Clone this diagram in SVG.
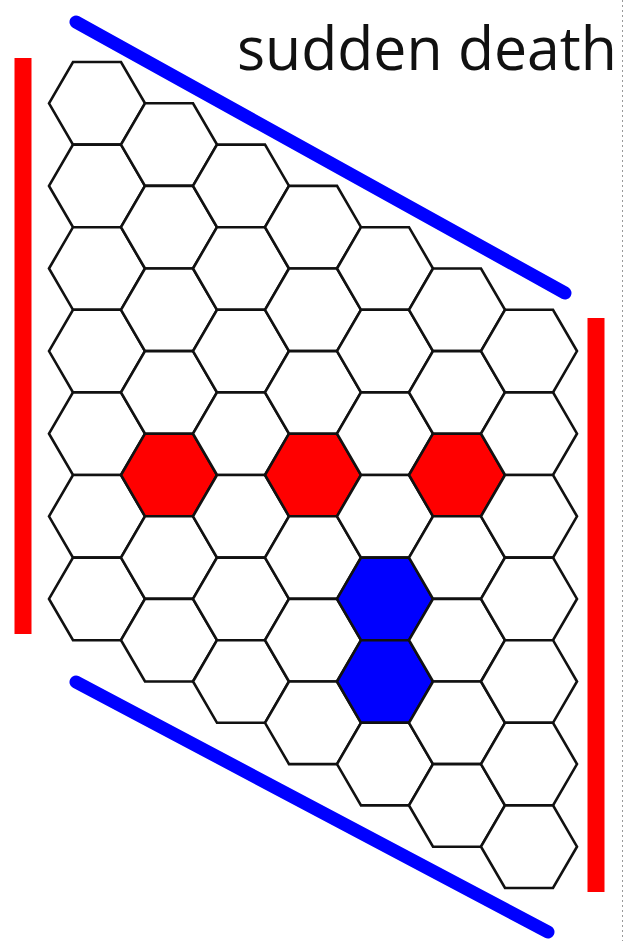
<svg xmlns="http://www.w3.org/2000/svg" xmlns:xlink="http://www.w3.org/1999/xlink" width="625" height="941" viewBox="0 0 625 941">
<style>
.cell{fill:#ffffff;stroke:#111111;stroke-width:2.6;stroke-linejoin:miter}
.red{fill:#ff0000}
.blue{fill:#0000ff}
.bred{stroke:#ff0000;stroke-width:17;stroke-linecap:butt}
.bblue{stroke:#0000ff;stroke-width:13;stroke-linecap:round}
.title{font-family:"Open Sans","Liberation Sans",sans-serif;font-size:60px;fill:#111111}
</style>
<defs>
<polygon id="hex" points="-48,0 -24,-41.3 24,-41.3 48,0 24,41.3 -24,41.3"/>
</defs>
<rect width="625" height="941" fill="#ffffff"/>
<line x1="622.5" y1="0" x2="622.5" y2="941" stroke="#999" stroke-width="1" stroke-dasharray="2,3"/>
<text class="title" x="237" y="70" textLength="380" lengthAdjust="spacingAndGlyphs">sudden death</text>
<g id="borders">
<line class="bred" x1="23" y1="58" x2="23" y2="634"/>
<line class="bred" x1="596" y1="318" x2="596" y2="892"/>
<line class="bblue" x1="76" y1="22" x2="565" y2="293"/>
<line class="bblue" x1="76" y1="682" x2="548" y2="932"/>
</g>
<g id="board">
<g id="c0r0"><use href="#hex" class="cell" transform="translate(97,103.3)"/></g>
<g id="c0r1"><use href="#hex" class="cell" transform="translate(97,185.9)"/></g>
<g id="c0r2"><use href="#hex" class="cell" transform="translate(97,268.5)"/></g>
<g id="c0r3"><use href="#hex" class="cell" transform="translate(97,351.1)"/></g>
<g id="c0r4"><use href="#hex" class="cell" transform="translate(97,433.7)"/></g>
<g id="c0r5"><use href="#hex" class="cell" transform="translate(97,516.3)"/></g>
<g id="c0r6"><use href="#hex" class="cell" transform="translate(97,598.9)"/></g>
<g id="c1r0"><use href="#hex" class="cell" transform="translate(169,144.6)"/></g>
<g id="c1r1"><use href="#hex" class="cell" transform="translate(169,227.2)"/></g>
<g id="c1r2"><use href="#hex" class="cell" transform="translate(169,309.8)"/></g>
<g id="c1r3"><use href="#hex" class="cell" transform="translate(169,392.4)"/></g>
<g id="c1r4"><use href="#hex" class="cell red" transform="translate(169,475)"/></g>
<g id="c1r5"><use href="#hex" class="cell" transform="translate(169,557.6)"/></g>
<g id="c1r6"><use href="#hex" class="cell" transform="translate(169,640.2)"/></g>
<g id="c2r0"><use href="#hex" class="cell" transform="translate(241,185.9)"/></g>
<g id="c2r1"><use href="#hex" class="cell" transform="translate(241,268.5)"/></g>
<g id="c2r2"><use href="#hex" class="cell" transform="translate(241,351.1)"/></g>
<g id="c2r3"><use href="#hex" class="cell" transform="translate(241,433.7)"/></g>
<g id="c2r4"><use href="#hex" class="cell" transform="translate(241,516.3)"/></g>
<g id="c2r5"><use href="#hex" class="cell" transform="translate(241,598.9)"/></g>
<g id="c2r6"><use href="#hex" class="cell" transform="translate(241,681.5)"/></g>
<g id="c3r0"><use href="#hex" class="cell" transform="translate(313,227.2)"/></g>
<g id="c3r1"><use href="#hex" class="cell" transform="translate(313,309.8)"/></g>
<g id="c3r2"><use href="#hex" class="cell" transform="translate(313,392.4)"/></g>
<g id="c3r3"><use href="#hex" class="cell red" transform="translate(313,475)"/></g>
<g id="c3r4"><use href="#hex" class="cell" transform="translate(313,557.6)"/></g>
<g id="c3r5"><use href="#hex" class="cell" transform="translate(313,640.2)"/></g>
<g id="c3r6"><use href="#hex" class="cell" transform="translate(313,722.8)"/></g>
<g id="c4r0"><use href="#hex" class="cell" transform="translate(385,268.5)"/></g>
<g id="c4r1"><use href="#hex" class="cell" transform="translate(385,351.1)"/></g>
<g id="c4r2"><use href="#hex" class="cell" transform="translate(385,433.7)"/></g>
<g id="c4r3"><use href="#hex" class="cell" transform="translate(385,516.3)"/></g>
<g id="c4r4"><use href="#hex" class="cell blue" transform="translate(385,598.9)"/></g>
<g id="c4r5"><use href="#hex" class="cell blue" transform="translate(385,681.5)"/></g>
<g id="c4r6"><use href="#hex" class="cell" transform="translate(385,764.1)"/></g>
<g id="c5r0"><use href="#hex" class="cell" transform="translate(457,309.8)"/></g>
<g id="c5r1"><use href="#hex" class="cell" transform="translate(457,392.4)"/></g>
<g id="c5r2"><use href="#hex" class="cell red" transform="translate(457,475)"/></g>
<g id="c5r3"><use href="#hex" class="cell" transform="translate(457,557.6)"/></g>
<g id="c5r4"><use href="#hex" class="cell" transform="translate(457,640.2)"/></g>
<g id="c5r5"><use href="#hex" class="cell" transform="translate(457,722.8)"/></g>
<g id="c5r6"><use href="#hex" class="cell" transform="translate(457,805.4)"/></g>
<g id="c6r0"><use href="#hex" class="cell" transform="translate(529,351.1)"/></g>
<g id="c6r1"><use href="#hex" class="cell" transform="translate(529,433.7)"/></g>
<g id="c6r2"><use href="#hex" class="cell" transform="translate(529,516.3)"/></g>
<g id="c6r3"><use href="#hex" class="cell" transform="translate(529,598.9)"/></g>
<g id="c6r4"><use href="#hex" class="cell" transform="translate(529,681.5)"/></g>
<g id="c6r5"><use href="#hex" class="cell" transform="translate(529,764.1)"/></g>
<g id="c6r6"><use href="#hex" class="cell" transform="translate(529,846.7)"/></g>
</g>
</svg>
